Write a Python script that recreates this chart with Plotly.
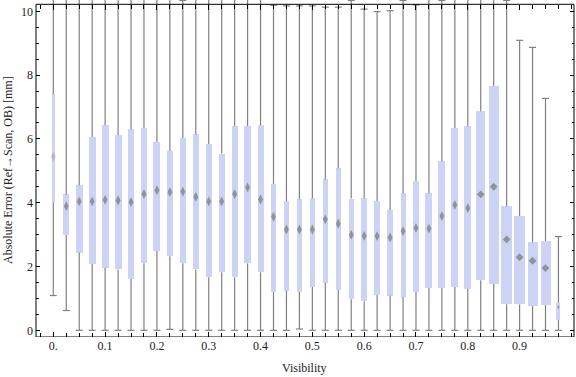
import plotly.graph_objects as go

# ---- data ----
visibility = [0.0, 0.025, 0.05, 0.075, 0.1, 0.125, 0.15, 0.175, 0.2, 0.225,
              0.25, 0.275, 0.3, 0.325, 0.35, 0.375, 0.4, 0.425, 0.45, 0.475,
              0.5, 0.525, 0.55, 0.575, 0.6, 0.625, 0.65, 0.675, 0.7, 0.725,
              0.75, 0.775, 0.8, 0.825, 0.85, 0.875, 0.9, 0.925, 0.95, 0.975]
q1 = [4.00, 2.99, 2.43, 2.08, 1.96, 1.91, 1.61, 2.10, 2.49, 2.32,
      2.10, 1.91, 1.66, 1.82, 1.66, 2.10, 1.82, 1.20, 1.24, 1.20,
      1.36, 1.49, 1.26, 0.97, 0.91, 1.11, 1.08, 1.05, 1.20, 1.33,
      1.33, 1.36, 1.30, 1.57, 1.45, 0.82, 0.81, 0.76, 0.79, 0.32]
median = [5.44, 3.89, 4.04, 4.04, 4.09, 4.07, 4.02, 4.27, 4.39, 4.33,
          4.35, 4.18, 4.04, 4.04, 4.27, 4.48, 4.10, 3.56, 3.16, 3.16,
          3.16, 3.48, 3.34, 2.99, 2.96, 2.95, 2.91, 3.11, 3.21, 3.19,
          3.58, 3.93, 3.83, 4.26, 4.50, 2.85, 2.29, 2.18, 1.95, 0.73]
q3 = [7.40, 4.26, 4.54, 6.06, 6.43, 6.12, 6.30, 6.34, 5.90, 5.62,
      6.03, 6.14, 5.84, 5.54, 6.40, 6.40, 6.43, 4.59, 4.05, 4.11,
      4.14, 4.73, 5.08, 4.13, 4.14, 4.05, 3.77, 4.30, 4.68, 4.30,
      5.30, 6.34, 6.40, 6.87, 7.66, 3.89, 3.58, 2.76, 2.80, 0.86]
whisker_min = [1.09, 0.62, 0.0, 0.0, 0.0, 0.0, 0.0, 0.0, 0.0, 0.03,
               0.0, 0.0, 0.0, 0.0, 0.0, 0.0, 0.0, 0.0, 0.0, 0.04,
               0.0, 0.0, 0.0, 0.0, 0.0, 0.0, 0.0, 0.0, 0.0, 0.0,
               0.0, 0.0, 0.0, 0.0, 0.0, 0.0, 0.0, 0.0, 0.0, 0.0]
whisker_max = [12.0, 12.0, 12.0, 12.0, 12.0, 12.0, 12.0, 12.0, 12.0, 12.0,
               10.34, 12.0, 12.0, 12.0, 12.0, 12.0, 12.0, 10.19, 10.17, 10.17,
               10.17, 10.13, 10.13, 10.34, 10.07, 9.99, 10.02, 10.34, 10.20, 12.0,
               10.34, 12.0, 12.0, 12.0, 12.0, 10.34, 9.09, 8.87, 7.27, 2.94]

x_tick_vals = [0.0, 0.1, 0.2, 0.3, 0.4, 0.5, 0.6, 0.7, 0.8, 0.9]
x_tick_text = ["0.", "0.1", "0.2", "0.3", "0.4", "0.5", "0.6", "0.7", "0.8", "0.9"]
y_tick_vals = [0, 2, 4, 6, 8, 10]

# ---- styles ----
box_width_px = [3.3, 6.3, 7, 7, 7, 7, 6.3, 6, 7, 6.3,
                6, 6, 6, 6, 6, 7, 6, 5, 5, 5,
                5, 5, 5.3, 5, 6, 6, 6, 5, 6, 7,
                7, 7, 7, 9, 10, 11, 11, 10, 10, 4]
X_RANGE = [-0.0334, 1.005]
Y_RANGE = [-0.21, 10.355]
FRAME_TOP = 10.22
PLOT_W = 576 - 36 - 2
px_per_unit = PLOT_W / (X_RANGE[1] - X_RANGE[0])
box_width = [w / px_per_unit for w in box_width_px]

FILL = "rgb(204,211,245)"
GRAY = "rgb(128,128,128)"
FONT = "Liberation Serif"

med_symbol = ["diamond" if w >= 9 else "diamond-tall" for w in box_width_px]
med_size = []
for i, w in enumerate(box_width_px):
    if i == len(box_width_px) - 1:
        med_size.append(3)
    elif w >= 9:
        med_size.append(6)
    else:
        med_size.append(7)
med_color = ["rgba(128,128,128,0.5)" if i == 0 else "rgb(118,118,118)"
             for i in range(len(visibility))]

# whisker segments (outside the box)
wx, wy = [], []
for x, lo, a, b, hi in zip(visibility, whisker_min, q1, q3, whisker_max):
    wx += [x, x, None, x, x, None]
    wy += [lo, a, None, b, hi, None]

fig = go.Figure()
fig.add_trace(go.Scatter(x=wx, y=wy, mode="lines",
                         line=dict(color=GRAY, width=1.2),
                         hoverinfo="skip", showlegend=False))
fig.add_trace(go.Scatter(x=visibility + visibility, y=whisker_min + whisker_max,
                         mode="markers",
                         marker=dict(symbol="line-ew", size=5,
                                     line=dict(color=GRAY, width=1.2)),
                         hoverinfo="skip", showlegend=False))
fig.add_trace(go.Bar(x=visibility, y=[b - a for a, b in zip(q1, q3)], base=q1,
                     width=box_width, marker=dict(color=FILL, line=dict(width=0)),
                     showlegend=False))
fig.add_trace(go.Scatter(x=visibility, y=median, mode="markers",
                         marker=dict(symbol=med_symbol, size=med_size,
                                     color=med_color, line=dict(width=0)),
                         showlegend=False))
# dummy trace to activate the top tick axis
fig.add_trace(go.Scatter(x=[0.5], y=[5], xaxis="x2", mode="markers",
                         marker=dict(opacity=0), hoverinfo="skip", showlegend=False))

fig.update_layout(
    width=576, height=377,
    margin=dict(l=36, r=2, t=0, b=40),
    paper_bgcolor="white", plot_bgcolor="white",
    font=dict(family=FONT, size=12, color="#222"),
    bargap=0,
    xaxis=dict(range=X_RANGE, tickvals=x_tick_vals, ticktext=x_tick_text,
               ticks="inside", ticklen=5, tickcolor="black", tickwidth=1,
               minor=dict(dtick=0.025, tick0=0, ticks="inside", ticklen=4,
                          tickcolor="black", showgrid=False),
               showgrid=False, zeroline=False, showline=False,
               tickfont=dict(family=FONT, size=12, color="#222")),
    xaxis2=dict(range=X_RANGE, overlaying="x", side="top", anchor="free",
                position=(FRAME_TOP - Y_RANGE[0]) / (Y_RANGE[1] - Y_RANGE[0]),
                tickvals=x_tick_vals, showticklabels=False,
                ticks="inside", ticklen=5, tickcolor="black", tickwidth=1,
                minor=dict(dtick=0.025, tick0=0, ticks="inside", ticklen=4,
                           tickcolor="black", showgrid=False),
                showgrid=False, zeroline=False, showline=False),
    yaxis=dict(range=Y_RANGE, tickvals=y_tick_vals,
               ticks="inside", ticklen=4, tickcolor="black", tickwidth=1,
               mirror="ticks",
               minor=dict(dtick=0.5, tick0=0, ticks="inside", ticklen=2.5,
                          tickcolor="black", showgrid=False),
               showgrid=False, zeroline=False, showline=False,
               ticklabelstandoff=2,
               tickfont=dict(family=FONT, size=12, color="#222")),
    shapes=[dict(type="rect", xref="paper", yref="y", x0=0, x1=1,
                 y0=Y_RANGE[0], y1=FRAME_TOP, line=dict(color="black", width=1),
                 layer="above")],
    annotations=[
        dict(text="Absolute Error (Ref\u2192Scan, OB) [mm]", xref="paper", yref="paper",
             x=(8 - 36) / PLOT_W, y=(337 - 170) / 337, textangle=-90,
             showarrow=False, xanchor="center", yanchor="middle",
             font=dict(family=FONT, size=12, color="#222")),
        dict(text="Visibility", xref="paper", yref="paper",
             x=(304 - 36) / PLOT_W, y=(337 - 368) / 337,
             showarrow=False, xanchor="center", yanchor="middle",
             font=dict(family=FONT, size=12, color="#222")),
    ],
)

fig.write_html("out.html",
               config={"displayModeBar": False},
               post_script="document.body.style.margin='0';"
                           "document.body.style.overflow='hidden';")
